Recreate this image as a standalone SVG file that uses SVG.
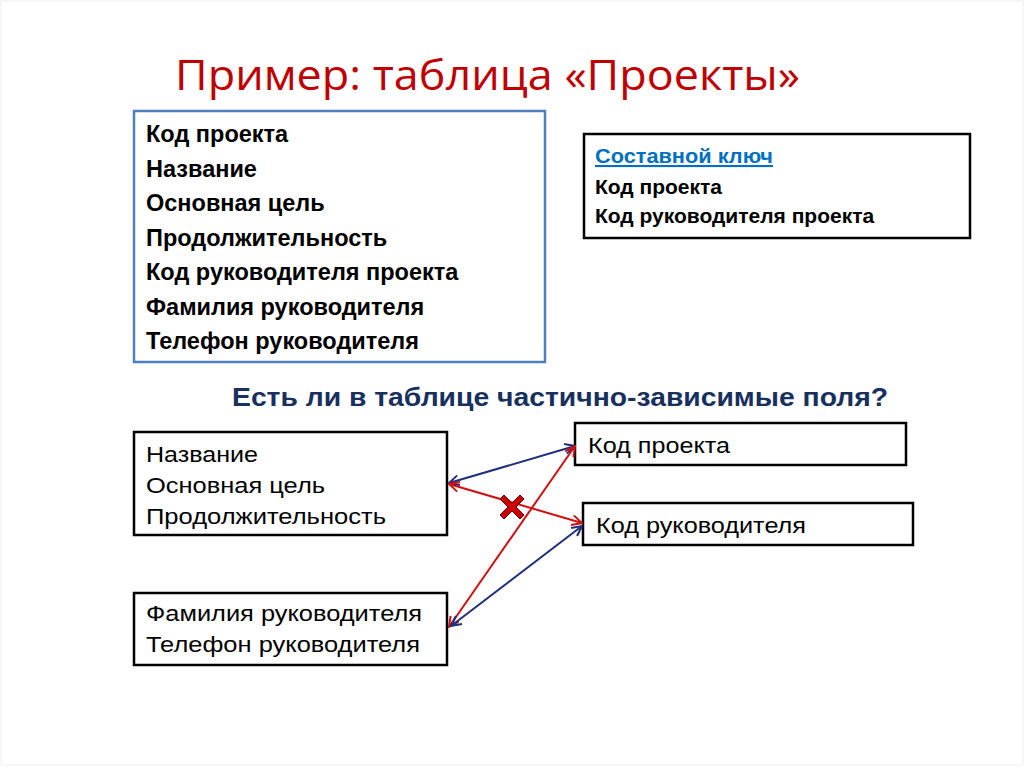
<svg xmlns="http://www.w3.org/2000/svg" width="1024" height="767" viewBox="0 0 1024 767">
<defs>
<style>
.t{font-family:"Liberation Sans",Arial,sans-serif}
.b{font-weight:bold}
.r{font-family:"Liberation Sans",Arial,sans-serif;font-size:22.5px;fill:#000}
.box{fill:#fff;stroke:#000;stroke-width:2.5}
.blue{stroke:#1f2f7a;stroke-width:2;fill:none}
.red{stroke:#d01010;stroke-width:2;fill:none}
</style>
<marker id="ab" viewBox="0 0 12 12" refX="11" refY="6" markerWidth="12" markerHeight="12" markerUnits="userSpaceOnUse" orient="auto-start-reverse">
<path d="M1,1 L11,6 L1,11" fill="none" stroke="#1f2f7a" stroke-width="2"/>
</marker>
<marker id="ar" viewBox="0 0 12 12" refX="11" refY="6" markerWidth="12" markerHeight="12" markerUnits="userSpaceOnUse" orient="auto-start-reverse">
<path d="M1,1 L11,6 L1,11" fill="none" stroke="#d01010" stroke-width="2"/>
</marker>
</defs>
<rect x="0" y="0" width="1024" height="767" fill="#fff"/>
<rect x="1" y="1" width="1022" height="764" fill="none" stroke="#eeeeee" stroke-width="1"/>
<text x="175" y="90" font-size="42" fill="#c00000" font-family="'Open Sans', sans-serif" textLength="625" lengthAdjust="spacingAndGlyphs">Пример: таблица «Проекты»</text>

<g id="table">
<rect x="134" y="111" width="411" height="251" fill="#fff" stroke="#4f7fbf" stroke-width="2.5"/>
<g class="t b" font-size="23.5" fill="#000">
<text x="146" y="142">Код проекта</text>
<text x="146" y="177">Название</text>
<text x="146" y="211">Основная цель</text>
<text x="146" y="246">Продолжительность</text>
<text x="146" y="280">Код руководителя проекта</text>
<text x="146" y="315">Фамилия руководителя</text>
<text x="146" y="349">Телефон руководителя</text>
</g>
</g>

<g id="key">
<rect class="box" x="584" y="134" width="386" height="104"/>
<text class="t b" x="595" y="163" font-size="21" fill="#0070c0" text-decoration="underline" textLength="178" lengthAdjust="spacingAndGlyphs">Составной ключ</text>
<text class="t b" x="595" y="194" font-size="21" fill="#000">Код проекта</text>
<text class="t b" x="595" y="223" font-size="21" fill="#000">Код руководителя проекта</text>
</g>

<text id="question" class="t b" x="232" y="406" font-size="25" fill="#17305e" textLength="656" lengthAdjust="spacingAndGlyphs">Есть ли в таблице частично-зависимые поля?</text>

<g id="n1">
<rect class="box" x="134" y="432" width="313" height="103"/>
<text class="r" x="146" y="462" textLength="112" lengthAdjust="spacingAndGlyphs">Название</text>
<text class="r" x="146" y="493" textLength="179" lengthAdjust="spacingAndGlyphs">Основная цель</text>
<text class="r" x="146" y="524" textLength="240" lengthAdjust="spacingAndGlyphs">Продолжительность</text>
</g>
<g id="n2">
<rect class="box" x="134" y="593" width="313" height="72"/>
<text class="r" x="146" y="621" textLength="276" lengthAdjust="spacingAndGlyphs">Фамилия руководителя</text>
<text class="r" x="146" y="652" textLength="274" lengthAdjust="spacingAndGlyphs">Телефон руководителя</text>
</g>
<g id="n3">
<rect class="box" x="575" y="423" width="331" height="42"/>
<text class="r" x="588" y="453" textLength="142" lengthAdjust="spacingAndGlyphs">Код проекта</text>
</g>
<g id="n4">
<rect class="box" x="583" y="503" width="330" height="42"/>
<text class="r" x="596" y="533" textLength="210" lengthAdjust="spacingAndGlyphs">Код руководителя</text>
</g>

<g id="connectors">
<line class="blue" x1="449" y1="483" x2="575" y2="446" marker-start="url(#ab)" marker-end="url(#ab)"/>
<line class="red" x1="449" y1="484" x2="582" y2="523" marker-start="url(#ar)" marker-end="url(#ar)"/>
<line class="red" x1="449" y1="627" x2="575" y2="446" marker-start="url(#ar)" marker-end="url(#ar)"/>
<line class="blue" x1="451" y1="626" x2="582" y2="526" marker-start="url(#ab)" marker-end="url(#ab)"/>
<path d="M504,495 L512,503 L520,495 L524,499 L516,507 L524,515 L520,519 L512,511 L504,519 L500,515 L508,507 L500,499 Z" fill="#cc0000" stroke="#5a0000" stroke-width="1"/>
</g>
</svg>
